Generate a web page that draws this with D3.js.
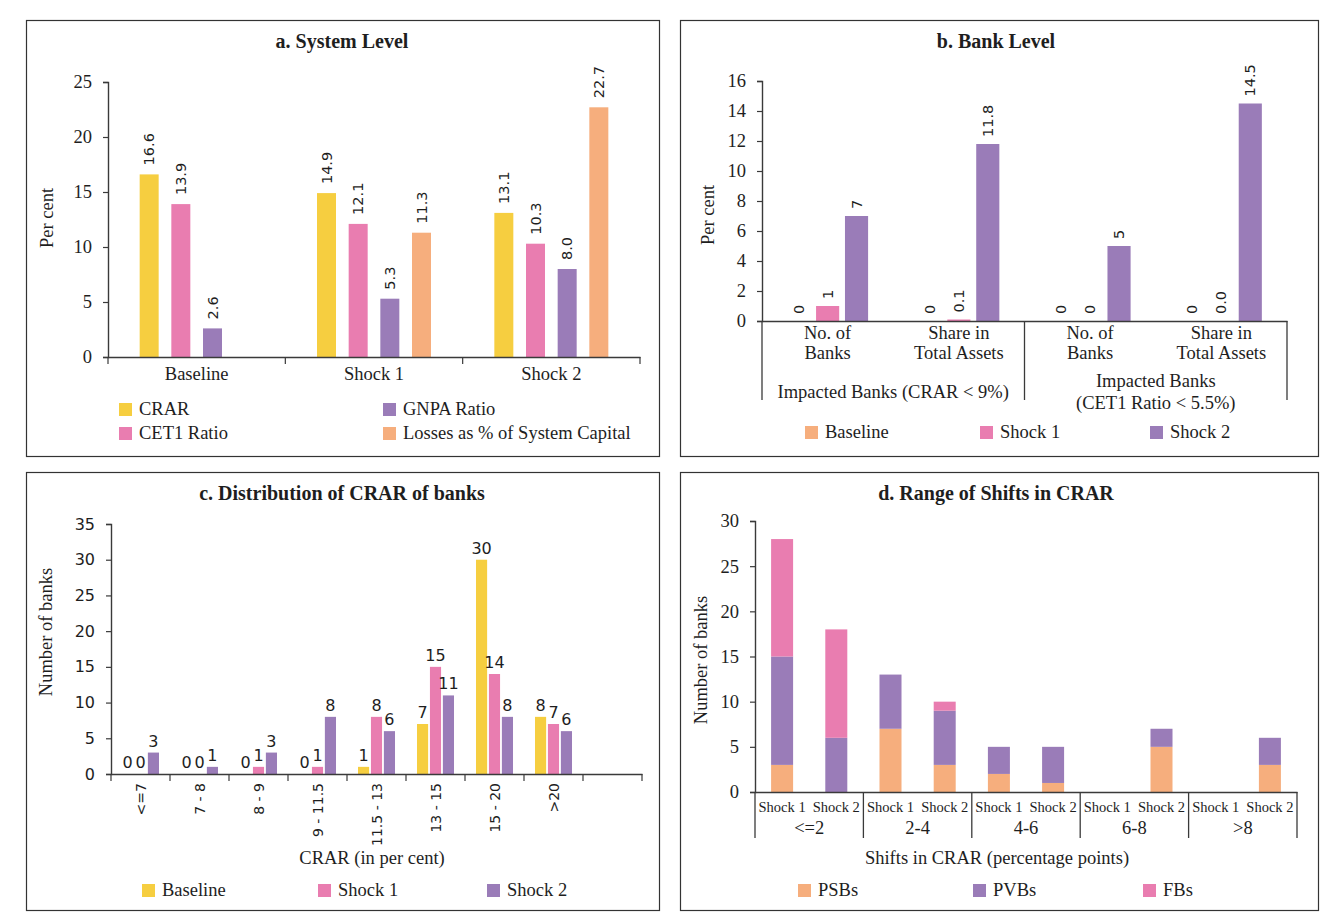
<!DOCTYPE html>
<html>
<head>
<meta charset="utf-8">
<script src="https://cdn.jsdelivr.net/npm/d3@7"></script>
<style>
  html, body { margin: 0; padding: 0; background: #fff; }
  svg { display: block; }
  text { fill: #1e1e1e; }
</style>
</head>
<body>
<svg id="chart" width="1329" height="921"></svg>
<script>
// ---------- Data ----------
// a. System Level
const sysCategories = ["Baseline", "Shock 1", "Shock 2"];
const sysSeries = ["CRAR", "CET1 Ratio", "GNPA Ratio", "Losses as % of System Capital"];
const sysCRAR = [16.6, 14.9, 13.1];
const sysCET1 = [13.9, 12.1, 10.3];
const sysGNPA = [2.6, 5.3, 8.0];
const sysLosses = [null, 11.3, 22.7];
const sysTicks = [0, 5, 10, 15, 20, 25];

// b. Bank Level
const bankCategories = ["No. of|Banks", "Share in|Total Assets", "No. of|Banks ", "Share in|Total Assets "];
const bankGroups = ["Impacted Banks (CRAR < 9%)", "Impacted Banks|(CET1 Ratio < 5.5%)"];
const bankSeries = ["Baseline", "Shock 1", "Shock 2"];
const bankBaseline = [0, 0, 0, 0];
const bankShock1 = [1, 0.1, 0, 0.0];
const bankShock2 = [7, 11.8, 5, 14.5];
const bankIsShare = [false, true, false, true];
const bankTicks = [0, 2, 4, 6, 8, 10, 12, 14, 16];

// c. Distribution of CRAR of banks
const crarBins = ["<=7", "7 - 8", "8 - 9", "9 - 11.5", "11.5 - 13", "13 - 15", "15 - 20", ">20", " "];
const crarSeries = ["Baseline", "Shock 1", "Shock 2"];
const crarBaseline = [0, 0, 0, 0, 1, 7, 30, 8];
const crarShock1 = [0, 0, 1, 1, 8, 15, 14, 7];
const crarShock2 = [3, 1, 3, 8, 6, 11, 8, 6];
const crarTicks = [0, 5, 10, 15, 20, 25, 30, 35];

// d. Range of Shifts in CRAR
const shiftRanges = ["<=2", "2-4", "4-6", "6-8", ">8"];
const shiftShocks = ["Shock 1", "Shock 2"];
const shiftGroups = ["PSBs", "PVBs", "FBs"];
const shiftPSBs = [3, 0, 7, 3, 2, 1, 0, 5, 0, 3];
const shiftPVBs = [12, 6, 6, 6, 3, 4, 0, 2, 0, 3];
const shiftFBs = [13, 12, 0, 1, 0, 0, 0, 0, 0, 0];
const shiftTicks = [0, 5, 10, 15, 20, 25, 30];

// ---------- Styling ----------
const YELLOW = "#f6ce40", PINK = "#e97db0", PURPLE = "#9a7cb8", PEACH = "#f6ae7d";
const SERIF = "'Liberation Serif', 'DejaVu Serif', serif";
const SANS = "'DejaVu Sans', sans-serif";
const AXIS = "#3a3a3a";
const FS = 18.5;   // body text size

const svg = d3.select("#chart");
svg.append("rect").attr("width", 1329).attr("height", 921).attr("fill", "#fff");

function panelFrame(x, y, w, h, title, tx, ty) {
  svg.append("rect").attr("x", x + 0.5).attr("y", y + 0.5).attr("width", w).attr("height", h)
    .attr("fill", "none").attr("stroke", "#333").attr("stroke-width", 1.2);
  svg.append("text").attr("x", tx).attr("y", ty).attr("text-anchor", "middle")
    .attr("font-family", SERIF).attr("font-weight", "bold").attr("font-size", 20).text(title);
}

function yAxis(g, scale, ticks, x) {
  const ax = g.append("g").attr("transform", `translate(${x},0)`)
    .call(d3.axisLeft(scale).tickValues(ticks).tickSize(5).tickPadding(11).tickFormat(d3.format("d")));
  ax.select(".domain").attr("stroke", AXIS).attr("stroke-width", 1.4);
  ax.selectAll(".tick line").attr("stroke", AXIS).attr("stroke-width", 1.2);
  ax.selectAll(".tick text").attr("font-family", SERIF).attr("font-size", FS).attr("fill", "#1e1e1e");
  return ax;
}

function yTitle(x, y, label) {
  svg.append("text").attr("transform", `translate(${x},${y}) rotate(-90)`)
    .attr("text-anchor", "middle").attr("font-family", SERIF).attr("font-size", FS).text(label);
}

function legend(items, y) {
  items.forEach(it => {
    svg.append("rect").attr("x", it.x).attr("y", y - 6).attr("width", 13).attr("height", 13).attr("fill", it.color);
    svg.append("text").attr("x", it.x + 20).attr("y", y + 6).attr("font-family", SERIF)
      .attr("font-size", FS).text(it.label);
  });
}

// ---------- Panel a ----------
(function () {
  panelFrame(26, 20, 633, 436, "a. System Level", 342, 48);
  const g = svg.append("g");
  const y = d3.scaleLinear().domain([0, 25]).range([357, 82]);
  const x0 = d3.scaleBand().domain(sysCategories).range([108, 640]);
  const x1 = d3.scaleBand().domain(sysSeries).range([0, x0.bandwidth()]).paddingInner(0.4).paddingOuter(1.0);
  const colors = [YELLOW, PINK, PURPLE, PEACH];
  const values = [sysCRAR, sysCET1, sysGNPA, sysLosses];
  const rows = [];
  sysCategories.forEach((c, i) => sysSeries.forEach((s, j) => {
    if (values[j][i] != null) rows.push({ c, s, v: values[j][i], color: colors[j] });
  }));
  g.selectAll("rect.bar").data(rows).join("rect").attr("class", "bar")
    .attr("x", d => x0(d.c) + x1(d.s)).attr("width", x1.bandwidth())
    .attr("y", d => y(d.v)).attr("height", d => y(0) - y(d.v)).attr("fill", d => d.color);
  g.selectAll("text.val").data(rows).join("text").attr("class", "val")
    .attr("transform", d => `translate(${x0(d.c) + x1(d.s) + x1.bandwidth() / 2 + 5},${y(d.v) - 9}) rotate(-90)`)
    .attr("font-family", SANS).attr("font-size", 14.5).attr("text-anchor", "start")
    .text(d => d3.format(".1f")(d.v));
  yAxis(g, y, sysTicks, 108);
  // category axis
  const xa = g.append("g").attr("transform", `translate(0,357)`)
    .call(d3.axisBottom(x0).tickSize(0).tickPadding(10));
  xa.select(".domain").attr("stroke", AXIS).attr("stroke-width", 1.4);
  xa.selectAll(".tick text").attr("font-family", SERIF).attr("font-size", FS).attr("fill", "#1e1e1e");
  const edges = sysCategories.map(c => x0(c)).concat([x0.range()[1]]);
  g.selectAll("line.sep").data(edges).join("line").attr("class", "sep")
    .attr("x1", d => d).attr("x2", d => d).attr("y1", 357).attr("y2", 364)
    .attr("stroke", AXIS).attr("stroke-width", 1.2);
  yTitle(53, 218, "Per cent");
  legend([
    { x: 119, color: YELLOW, label: sysSeries[0] },
    { x: 383, color: PURPLE, label: sysSeries[2] }
  ], 409);
  legend([
    { x: 119, color: PINK, label: sysSeries[1] },
    { x: 383, color: PEACH, label: sysSeries[3] }
  ], 433);
})();

// ---------- Panel b ----------
(function () {
  panelFrame(680, 20, 638, 436, "b. Bank Level", 996, 48);
  const g = svg.append("g");
  const y = d3.scaleLinear().domain([0, 16]).range([321, 81]);
  const x0 = d3.scaleBand().domain(bankCategories).range([762, 1287]);
  const x1 = d3.scaleBand().domain(bankSeries).range([0, x0.bandwidth()]).paddingInner(0.2).paddingOuter(0.87);
  const colors = [PEACH, PINK, PURPLE];
  const values = [bankBaseline, bankShock1, bankShock2];
  const rows = [];
  bankCategories.forEach((c, i) => bankSeries.forEach((s, j) => {
    const v = values[j][i];
    const fmt = bankIsShare[i] && j > 0 ? d3.format(".1f") : d3.format("d");
    rows.push({ c, s, v, color: colors[j], label: fmt(v) });
  }));
  g.selectAll("rect.bar").data(rows).join("rect").attr("class", "bar")
    .attr("x", d => x0(d.c) + x1(d.s)).attr("width", x1.bandwidth())
    .attr("y", d => y(d.v)).attr("height", d => y(0) - y(d.v)).attr("fill", d => d.color);
  g.selectAll("text.val").data(rows).join("text").attr("class", "val")
    .attr("transform", d => `translate(${x0(d.c) + x1(d.s) + x1.bandwidth() / 2 + 5},${y(d.v) - 7}) rotate(-90)`)
    .attr("font-family", SANS).attr("font-size", 14.5).attr("text-anchor", "start")
    .text(d => d.label);
  yAxis(g, y, bankTicks, 762);
  const xa = g.append("g").attr("transform", `translate(0,321)`)
    .call(d3.axisBottom(x0).tickSize(0).tickFormat(""));
  xa.select(".domain").attr("stroke", AXIS).attr("stroke-width", 1.4);
  // two-line category labels
  bankCategories.forEach(c => {
    const lines = c.trim().split("|");
    const t = g.append("text").attr("text-anchor", "middle").attr("font-family", SERIF).attr("font-size", FS);
    lines.forEach((ln, k) => t.append("tspan").attr("x", x0(c) + x0.bandwidth() / 2).attr("y", 339 + k * 20).text(ln));
  });
  // group separators and group labels
  const sepX = [x0(bankCategories[0]), x0(bankCategories[2]), x0.range()[1]];
  g.selectAll("line.sep").data(sepX).join("line").attr("class", "sep")
    .attr("x1", d => d).attr("x2", d => d).attr("y1", 321).attr("y2", 400)
    .attr("stroke", AXIS).attr("stroke-width", 1.3);
  bankGroups.forEach((grp, i) => {
    const cx = (sepX[i] + sepX[i + 1]) / 2;
    const lines = grp.split("|");
    const t = g.append("text").attr("text-anchor", "middle").attr("font-family", SERIF).attr("font-size", FS);
    const y0 = lines.length === 1 ? 398 : 387;
    lines.forEach((ln, k) => t.append("tspan").attr("x", cx).attr("y", y0 + k * 22).text(ln));
  });
  yTitle(714, 215, "Per cent");
  legend([
    { x: 805, color: PEACH, label: "Baseline" },
    { x: 980, color: PINK, label: "Shock 1" },
    { x: 1150, color: PURPLE, label: "Shock 2" }
  ], 432);
})();

// ---------- Panel c ----------
(function () {
  panelFrame(26, 472, 633, 438, "c. Distribution of CRAR of banks", 342, 500);
  const g = svg.append("g");
  const y = d3.scaleLinear().domain([0, 35]).range([774, 524]);
  const x0 = d3.scaleBand().domain(crarBins).range([111, 642]);
  const x1 = d3.scaleBand().domain(crarSeries).range([0, x0.bandwidth()]).paddingInner(0.14).paddingOuter(0.85);
  const colors = [YELLOW, PINK, PURPLE];
  const values = [crarBaseline, crarShock1, crarShock2];
  const rows = [];
  crarBins.forEach((c, i) => crarSeries.forEach((s, j) => {
    if (values[j][i] != null) rows.push({ c, s, v: values[j][i], color: colors[j] });
  }));
  g.selectAll("rect.bar").data(rows).join("rect").attr("class", "bar")
    .attr("x", d => x0(d.c) + x1(d.s)).attr("width", x1.bandwidth())
    .attr("y", d => y(d.v)).attr("height", d => y(0) - y(d.v)).attr("fill", d => d.color);
  g.selectAll("text.val").data(rows).join("text").attr("class", "val")
    .attr("x", d => x0(d.c) + x1(d.s) + x1.bandwidth() / 2)
    .attr("y", d => y(d.v) - 6)
    .attr("font-family", SANS).attr("font-size", 16).attr("text-anchor", "middle")
    .text(d => d3.format("d")(d.v));
  const ya = yAxis(g, y, crarTicks, 111);
  ya.selectAll(".tick text").attr("font-family", SANS).attr("font-size", 16);
  const xa = g.append("g").attr("transform", `translate(0,774)`)
    .call(d3.axisBottom(x0).tickSize(0).tickFormat(""));
  xa.select(".domain").attr("stroke", AXIS).attr("stroke-width", 1.4);
  const edges = crarBins.map(c => x0(c)).concat([x0.range()[1]]);
  g.selectAll("line.sep").data(edges).join("line").attr("class", "sep")
    .attr("x1", d => d).attr("x2", d => d).attr("y1", 774).attr("y2", 781)
    .attr("stroke", AXIS).attr("stroke-width", 1.2);
  g.selectAll("text.bin").data(crarBins).join("text").attr("class", "bin")
    .attr("transform", d => `translate(${x0(d) + x0.bandwidth() / 2 + 5},${783}) rotate(-90)`)
    .attr("text-anchor", "end").attr("font-family", SANS).attr("font-size", 14).text(d => d);
  svg.append("text").attr("x", 372).attr("y", 864).attr("text-anchor", "middle")
    .attr("font-family", SERIF).attr("font-size", FS).text("CRAR (in per cent)");
  yTitle(52, 632, "Number of banks");
  legend([
    { x: 142, color: YELLOW, label: "Baseline" },
    { x: 318, color: PINK, label: "Shock 1" },
    { x: 487, color: PURPLE, label: "Shock 2" }
  ], 890);
})();

// ---------- Panel d ----------
(function () {
  panelFrame(680, 472, 638, 438, "d. Range of Shifts in CRAR", 996, 500);
  const g = svg.append("g");
  const y = d3.scaleLinear().domain([0, 30]).range([792, 521]);
  const slots = [];
  shiftRanges.forEach(r => shiftShocks.forEach(s => slots.push(r + "|" + s)));
  const x = d3.scaleBand().domain(slots).range([755, 1297]).paddingInner(0.594).paddingOuter(0.297);
  const table = slots.map((k, i) => ({ key: k, PSBs: shiftPSBs[i], PVBs: shiftPVBs[i], FBs: shiftFBs[i] }));
  const stacked = d3.stack().keys(shiftGroups)(table);
  const color = d3.scaleOrdinal().domain(shiftGroups).range([PEACH, PURPLE, PINK]);
  g.selectAll("g.layer").data(stacked).join("g").attr("class", "layer").attr("fill", d => color(d.key))
    .selectAll("rect").data(d => d.filter(p => p[1] > p[0])).join("rect")
    .attr("x", d => x(d.data.key)).attr("width", x.bandwidth())
    .attr("y", d => y(d[1])).attr("height", d => y(d[0]) - y(d[1]));
  yAxis(g, y, shiftTicks, 755);
  const xa = g.append("g").attr("transform", `translate(0,792)`)
    .call(d3.axisBottom(x).tickSize(0).tickFormat(""));
  xa.select(".domain").attr("stroke", AXIS).attr("stroke-width", 1.4);
  g.selectAll("text.sub").data(slots).join("text").attr("class", "sub")
    .attr("x", d => x(d) + x.bandwidth() / 2).attr("y", 812)
    .attr("text-anchor", "middle").attr("font-family", SERIF).attr("font-size", 14.5)
    .text(d => d.split("|")[1]);
  const groupW = (x.range()[1] - x.range()[0]) / shiftRanges.length;
  const edges = d3.range(shiftRanges.length + 1).map(i => x.range()[0] + i * groupW);
  g.selectAll("line.sep").data(edges).join("line").attr("class", "sep")
    .attr("x1", d => d).attr("x2", d => d).attr("y1", 792).attr("y2", 838)
    .attr("stroke", AXIS).attr("stroke-width", 1.3);
  g.selectAll("text.grp").data(shiftRanges).join("text").attr("class", "grp")
    .attr("x", (d, i) => edges[i] + groupW / 2).attr("y", 834)
    .attr("text-anchor", "middle").attr("font-family", SERIF).attr("font-size", FS).text(d => d);
  svg.append("text").attr("x", 997).attr("y", 864).attr("text-anchor", "middle")
    .attr("font-family", SERIF).attr("font-size", FS).text("Shifts in CRAR (percentage points)");
  yTitle(707, 660, "Number of banks");
  legend([
    { x: 798, color: PEACH, label: "PSBs" },
    { x: 973, color: PURPLE, label: "PVBs" },
    { x: 1143, color: PINK, label: "FBs" }
  ], 890);
})();
</script>
</body>
</html>
